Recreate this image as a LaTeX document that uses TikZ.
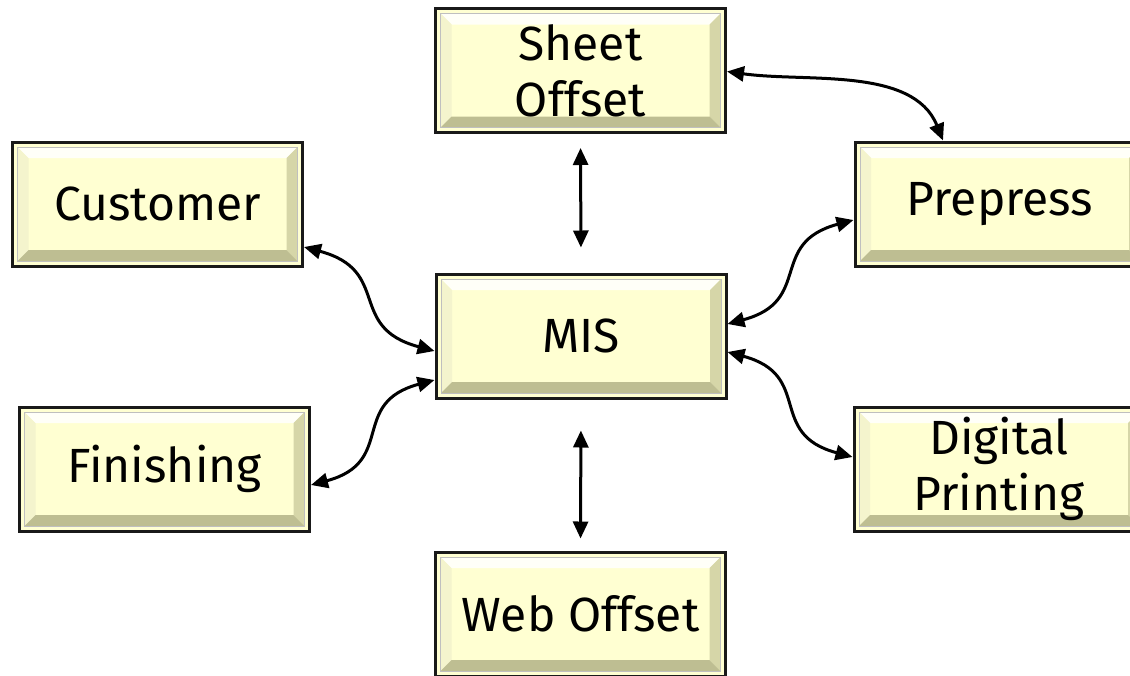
\documentclass[tikz,border=0pt]{standalone}
\usepackage{fontspec}
\setmainfont{Fira Sans}
\usetikzlibrary{arrows.meta,calc}

\definecolor{boxface}{RGB}{255,255,210}
\definecolor{bevtop}{RGB}{255,255,248}
\definecolor{bevleft}{RGB}{244,244,205}
\definecolor{bevright}{RGB}{214,214,168}
\definecolor{bevbottom}{RGB}{190,190,146}

\newcommand\boxfont{\fontsize{48}{56}\selectfont}

\tikzset{
  bevelbox/.style={
    draw=black!90, line width=3pt, fill=boxface,
    minimum width=290pt, minimum height=124pt, inner sep=0pt,
    align=center, font=\boxfont, text=black,
    path picture={
      % outer corners of the raised frame
      \coordinate (oA) at ([xshift=5pt,yshift=-5pt]path picture bounding box.north west);
      \coordinate (oB) at ([xshift=-5pt,yshift=-5pt]path picture bounding box.north east);
      \coordinate (oC) at ([xshift=-5pt,yshift=5pt]path picture bounding box.south east);
      \coordinate (oD) at ([xshift=5pt,yshift=5pt]path picture bounding box.south west);
      % inner corners of the raised frame
      \coordinate (iA) at ([xshift=11pt,yshift=-11pt]oA);
      \coordinate (iB) at ([xshift=-11pt,yshift=-11pt]oB);
      \coordinate (iC) at ([xshift=-11pt,yshift=11pt]oC);
      \coordinate (iD) at ([xshift=11pt,yshift=11pt]oD);
      \fill[bevtop]    (oA) -- (oB) -- (iB) -- (iA) -- cycle;
      \fill[bevleft]   (oA) -- (iA) -- (iD) -- (oD) -- cycle;
      \fill[bevright]  (oB) -- (oC) -- (iC) -- (iB) -- cycle;
      \fill[bevbottom] (oD) -- (oC) -- (iC) -- (iD) -- cycle;
      \draw[black!25, line width=0.6pt] (oA) rectangle (oC);
    }},
  link/.style={line width=3pt, {Triangle[length=17pt,width=15pt]}-{Triangle[length=17pt,width=15pt]}}
}

\begin{document}
\begin{tikzpicture}[x=1pt,y=-1pt]
\useasboundingbox (0,0) rectangle (1130,675);
\clip (0,0) rectangle (1130,675);

% boxes
\node[bevelbox] (sheet)    at (580.5,70.5) {Sheet\\Offset};
\node[bevelbox] (customer) at (157.5,204)  {Customer};
\node[bevelbox] (prepress) at (1000,204)   {Prepress};
\node[bevelbox] (mis)      at (581,336)    {MIS};
\node[bevelbox] (finish)   at (164.5,469)  {Finishing};
\node[bevelbox] (digital)  at (999,469)    {Digital\\Printing};
\node[bevelbox] (web)      at (580.5,614)  {Web Offset};

% straight links
\draw[link, shorten <=14pt, shorten >=25pt] (sheet.south) -- (mis.north);
\draw[link, shorten <=31pt, shorten >=12pt] (mis.south) -- (web.north);

% curved links
\draw[link] ([yshift=-1pt]sheet.east) to[out=-8,in=112,looseness=0.9] ([xshift=-57pt]prepress.north);
\draw[link] ([yshift=-43pt]customer.east) to[out=-15,in=165,looseness=1.4] ([yshift=-15pt]mis.west);
\draw[link] ([yshift=-16pt]finish.east) to[out=15,in=195,looseness=1.4] ([yshift=-44pt]mis.west);
\draw[link] ([yshift=12pt]mis.east) to[out=15,in=195,looseness=1.4] ([yshift=-16pt]prepress.west);
\draw[link] ([yshift=-16pt]mis.east) to[out=-15,in=165,looseness=1.4] ([yshift=12pt]digital.west);
\end{tikzpicture}
\end{document}
